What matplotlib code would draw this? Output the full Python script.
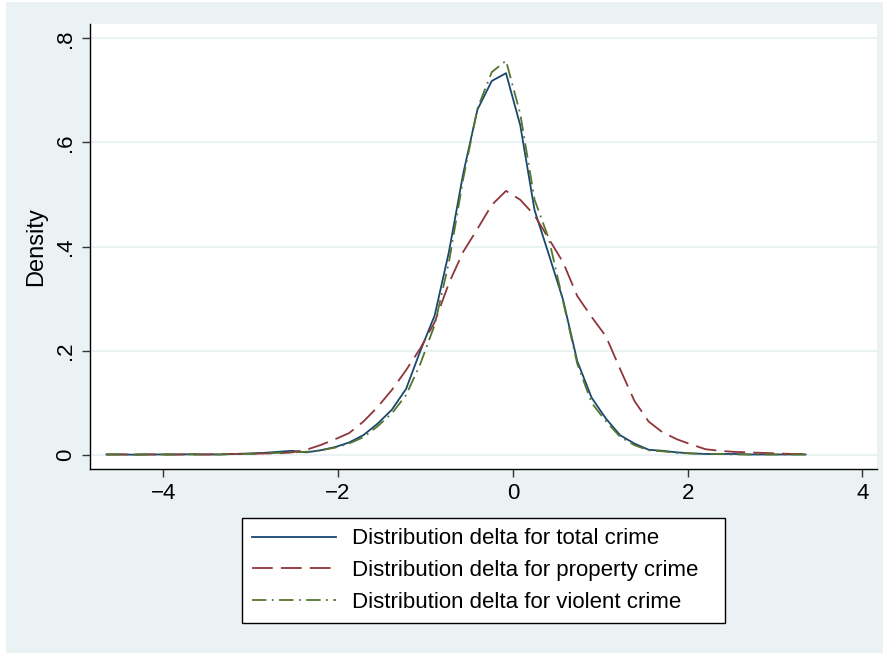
import matplotlib
matplotlib.use("Agg")
import matplotlib.pyplot as plt
from matplotlib.patches import Rectangle

plt.rcParams['font.family'] = ['Liberation Sans', 'DejaVu Sans']

# kdensity evaluation grid (50 points) and density estimates
x_grid = [-4.650, -4.487, -4.323, -4.160, -3.997, -3.834, -3.670, -3.507, -3.344, -3.180,
          -3.017, -2.854, -2.690, -2.527, -2.364, -2.201, -2.037, -1.874, -1.711, -1.548,
          -1.384, -1.221, -1.058, -0.894, -0.731, -0.568, -0.405, -0.241, -0.078, 0.085,
          0.249, 0.412, 0.575, 0.738, 0.902, 1.065, 1.228, 1.391, 1.555, 1.718,
          1.881, 2.044, 2.208, 2.371, 2.534, 2.697, 2.861, 3.024, 3.187, 3.350]

total_crime = [0.001, 0.001, 0.0005, 0.001, 0.001, 0.001, 0.0015, 0.001, 0.001, 0.002,
               0.003, 0.004, 0.006, 0.008, 0.005, 0.009, 0.015, 0.024, 0.038, 0.060,
               0.087, 0.127, 0.200, 0.268, 0.390, 0.540, 0.663, 0.718, 0.733, 0.633,
               0.470, 0.385, 0.298, 0.180, 0.110, 0.070, 0.038, 0.022, 0.010, 0.008,
               0.005, 0.003, 0.002, 0.002, 0.002, 0.001, 0.001, 0.001, 0.001, 0.001]

property_crime = [0.001, 0.001, 0.001, 0.001, 0.001, 0.001, 0.001, 0.001, 0.002, 0.002,
                  0.002, 0.003, 0.003, 0.005, 0.010, 0.019, 0.030, 0.042, 0.064, 0.092,
                  0.125, 0.163, 0.205, 0.255, 0.330, 0.390, 0.434, 0.480, 0.507, 0.490,
                  0.460, 0.415, 0.370, 0.305, 0.265, 0.228, 0.165, 0.104, 0.064, 0.043,
                  0.030, 0.020, 0.011, 0.008, 0.006, 0.005, 0.004, 0.003, 0.002, 0.002]

violent_crime = [0.001, 0.001, 0.001, 0.001, 0.001, 0.001, 0.001, 0.001, 0.001, 0.002,
                 0.002, 0.003, 0.004, 0.005, 0.006, 0.009, 0.014, 0.022, 0.034, 0.055,
                 0.080, 0.115, 0.175, 0.250, 0.370, 0.530, 0.665, 0.735, 0.757, 0.655,
                 0.490, 0.415, 0.295, 0.175, 0.100, 0.065, 0.035, 0.019, 0.009, 0.007,
                 0.004, 0.003, 0.002, 0.002, 0.001, 0.001, 0.001, 0.001, 0.001, 0.001]

labels = ["Distribution delta for total crime",
          "Distribution delta for property crime",
          "Distribution delta for violent crime"]

W, H = 883, 654
fig = plt.figure(figsize=(W / 100, H / 100), dpi=100, facecolor='white')
# stata graph region
fig.patches.append(Rectangle((6 / W, 1 / H), 1 - 6 / W, 1 - 3 / H, transform=fig.transFigure,
                             facecolor='#eaf2f3', edgecolor='none', zorder=-10))

ax = fig.add_axes([90 / W, 1 - 469 / H, (877 - 90) / W, (469 - 24) / H])
ax.set_facecolor('white')

ax.plot(x_grid, total_crime, color='#1a476f', lw=1.3, label=labels[0])
ax.plot(x_grid, property_crime, color='#90353b', lw=1.3, dashes=(11.5, 4.5), label=labels[1])
ax.plot(x_grid, violent_crime, color='#55752f', lw=1.3, dashes=(8, 3, 1, 3), label=labels[2])

ax.set_xlim(-4.839, 4.168)
ax.set_ylim(-0.0269, 0.8274)
ax.set_xticks([-4, -2, 0, 2, 4])
ax.set_yticks([0, 0.2, 0.4, 0.6, 0.8])
ax.set_yticklabels(['0', '.2', '.4', '.6', '.8'], rotation=90, va='center')
ax.grid(axis='y', color='#eaf2f3', lw=1.5)
ax.set_axisbelow(True)
for s in ['top', 'right']:
    ax.spines[s].set_visible(False)
for s in ['left', 'bottom']:
    ax.spines[s].set_color('black')
    ax.spines[s].set_linewidth(1.0)
ax.tick_params(length=6, width=1, color='#333333', labelsize=16, pad=4)
ax.set_ylabel('Density', fontsize=17, labelpad=6)

leg = ax.legend(loc='center', bbox_to_anchor=(242 / W, 1 - 623 / H, 483 / W, 105 / H),
                bbox_transform=fig.transFigure, mode='expand', fontsize=16,
                handlelength=3.8, handletextpad=0.68, labelspacing=0.48,
                borderpad=0.45, borderaxespad=0, fancybox=False, framealpha=1)
leg.get_frame().set_edgecolor('black')
leg.get_frame().set_linewidth(1.0)

fig.savefig('out.png', dpi=100, facecolor=fig.get_facecolor())
